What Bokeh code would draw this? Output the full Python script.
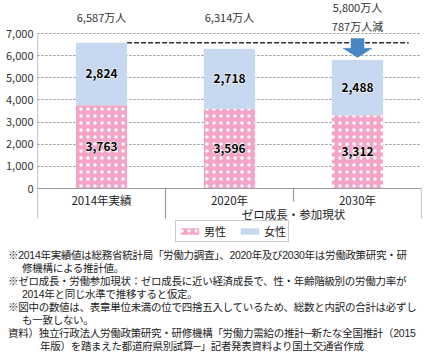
import numpy as np
from bokeh.plotting import figure
from bokeh.layouts import column
from bokeh.models import Range1d, FixedTicker, NumeralTickFormatter, Legend, LegendItem, Div
from bokeh.core.properties import value
from bokeh.embed import file_html
from bokeh.resources import INLINE

# ---------------- data ----------------
categories = ["2014年実績", "2020年", "2030年"]
male = [3763, 3596, 3312]
female = [2824, 2718, 2488]
total_labels = ["6,587万人", "6,314万人", "5,800万人\n787万人減"]
group_label = "ゼロ成長・参加現状"
series_names = ["男性", "女性"]
y_ticks = [0, 1000, 2000, 3000, 4000, 5000, 6000, 7000]
notes = [
    "※2014年実績値は総務省統計局「労働力調査」、2020年及び2030年は労働政策研究・研",
    "修機構による推計値。",
    "※ゼロ成長・労働参加現状：ゼロ成長に近い経済成長で、性・年齢階級別の労働力率が",
    "2014年と同じ水準で推移すると仮定。",
    "※図中の数値は、表章単位未満の位で四捨五入しているため、総数と内訳の合計は必ずし",
    "も一致しない。",
    "資料）独立行政法人労働政策研究・研修機構「労働力需給の推計─新たな全国推計（2015",
    "年版）を踏まえた都道府県別試算─」記者発表資料より国土交通省作成",
]

# ---------------- layout helpers ----------------
W, H = 427, 354
H1 = 246                 # chart part height
FL, FR = 37, 421
Y0 = 188
K = 155 / 7000.0
FONT = "Noto Sans CJK JP"
PINK = "#F4A4C6"
BLUE = "#C6D9F0"
ARROW = "#4A86C4"


def ypx(py):
    return (Y0 - py) / K


n = len(categories)
xs = np.arange(n) + 0.5
male_a = np.array(male)
female_a = np.array(female)
totals = male_a + female_a

p = figure(width=W, height=H1, output_backend="svg", toolbar_location=None,
           x_range=Range1d(0, n), y_range=Range1d(ypx(H1), ypx(0)),
           min_border_left=FL, min_border_right=W - FR,
           min_border_top=0, min_border_bottom=0,
           x_axis_location=None)
p.outline_line_color = None
p.xgrid.visible = False

# y axis
p.yaxis.ticker = FixedTicker(ticks=y_ticks)
p.yaxis.formatter = NumeralTickFormatter(format="0,0")
p.yaxis.axis_line_color = None
p.yaxis.major_tick_line_color = None
p.yaxis.minor_tick_line_color = None
p.yaxis.major_tick_out = 0
p.yaxis.major_tick_in = 0
p.yaxis.major_label_standoff = 4
p.yaxis.major_label_text_font = FONT
p.yaxis.major_label_text_font_size = "11px"
p.yaxis.major_label_text_color = "#333333"
p.ygrid.ticker = FixedTicker(ticks=y_ticks[1:])
p.ygrid.grid_line_color = "#8a8a8a"
p.ygrid.grid_line_dash = "2 2"
p.ygrid.grid_line_width = 1

# bars
r_m = p.vbar(x=xs, bottom=0, top=male_a, width=0.4, fill_color=PINK, line_color=None,
             hatch_pattern="dot", hatch_color="white", hatch_scale=7, hatch_weight=1.3)
r_f = p.vbar(x=xs, bottom=male_a, top=totals, width=0.4, fill_color=BLUE, line_color=None)

# axis line and separators
p.segment(x0=[0], y0=[0], x1=[n], y1=[0], line_color="#9a9a9a", line_width=1.2)
bounds = np.arange(n + 1)
sep_top = [y_ticks[-1]] + [0] * n
sep_bot = [ypx(218) if (b <= 1 or b == n) else ypx(201) for b in bounds]
p.segment(x0=bounds, y0=sep_top, x1=bounds, y1=sep_bot, line_color="#9a9a9a", line_width=1.2)

# dashed reference line at 2014 total
p.segment(x0=[xs[0] + 0.2], y0=[totals[0]], x1=[xs[-1] + 0.4], y1=[totals[0]],
          line_color="#333333", line_width=1.5, line_dash="5 2")

# arrow
bw = 6.5 / (FR - FL) * n
hw = 14.5 / (FR - FL) * n
a_top = totals[0] + 190
a_tip = totals[-1] + 120
a_base = a_tip + 410
cx = xs[-1]
p.patch(x=[cx - bw, cx + bw, cx + bw, cx + hw, cx, cx - hw, cx - bw],
        y=[a_top, a_top, a_base, a_base, a_tip, a_base, a_base],
        fill_color=ARROW, line_color=ARROW, line_width=0.5)

# value labels (white halo underneath, black text on top)
common = dict(text_font=value(FONT), text_align="center", text_baseline="middle")
for ys, vals in ((male_a / 2, male), (male_a + female_a / 2, female)):
    txt = [f"{v:,}" for v in vals]
    p.text(x=xs, y=ys, text=txt, text_font_size="12px", text_font_style="bold",
           text_color="white", text_outline_color="white", **common)
    p.text(x=xs, y=ys, text=txt, text_font_size="12px", text_font_style="bold",
           text_color="black", **common)

# total labels
p.text(x=xs, y=[ypx(16)] * n, text=total_labels, text_font_size="11px",
       text_color="#333333", **common)

# category labels
p.text(x=xs, y=[ypx(199)] * n, text=categories, text_font_size="11.5px",
       text_color="#222222", **common)
p.text(x=[xs[1:].mean()], y=[ypx(213)], text=[group_label], text_font_size="11.5px",
       text_color="#222222", **common)

# legend
legend = Legend(items=[LegendItem(label=series_names[0], renderers=[r_m]),
                       LegendItem(label=series_names[1], renderers=[r_f])],
                orientation="horizontal", location=(175 - FL, H1 - 242),
                glyph_width=23, glyph_height=8, label_standoff=3, spacing=12,
                padding=2, margin=0, label_height=12,
                label_text_font=FONT, label_text_font_size="11px",
                label_text_color="#222222",
                border_line_color="#999999", border_line_width=1,
                background_fill_alpha=1)
p.add_layout(legend, "center")

# ---------------- notes panel ----------------
H2 = H - H1
note_x = [8, 22, 8, 22, 8, 22, 8, 40]
LH = 11.5
STEP = 13.1
parts = []
for i, (t, nx) in enumerate(zip(notes, note_x)):
    ny = 255.5 + i * STEP
    top = ny - H1 - LH / 2
    parts.append(
        f'<div style="position:absolute;left:{nx}px;top:{top:.1f}px;white-space:nowrap;'
        f'font-family:\'Liberation Sans\',\'{FONT}\';font-size:10.5px;letter-spacing:-0.28px;'
        f'line-height:{LH}px;height:{LH}px;color:#222222;">{t}</div>')
html = ('<div style="position:relative;width:%dpx;height:%dpx;margin:0;padding:0;overflow:hidden;">' % (W, H2)
        + "".join(parts) + "</div>")
notes_div = Div(text=html, width=W, height=H2, margin=0)

open("out.html", "w").write(file_html(column(p, notes_div, spacing=0), INLINE))
